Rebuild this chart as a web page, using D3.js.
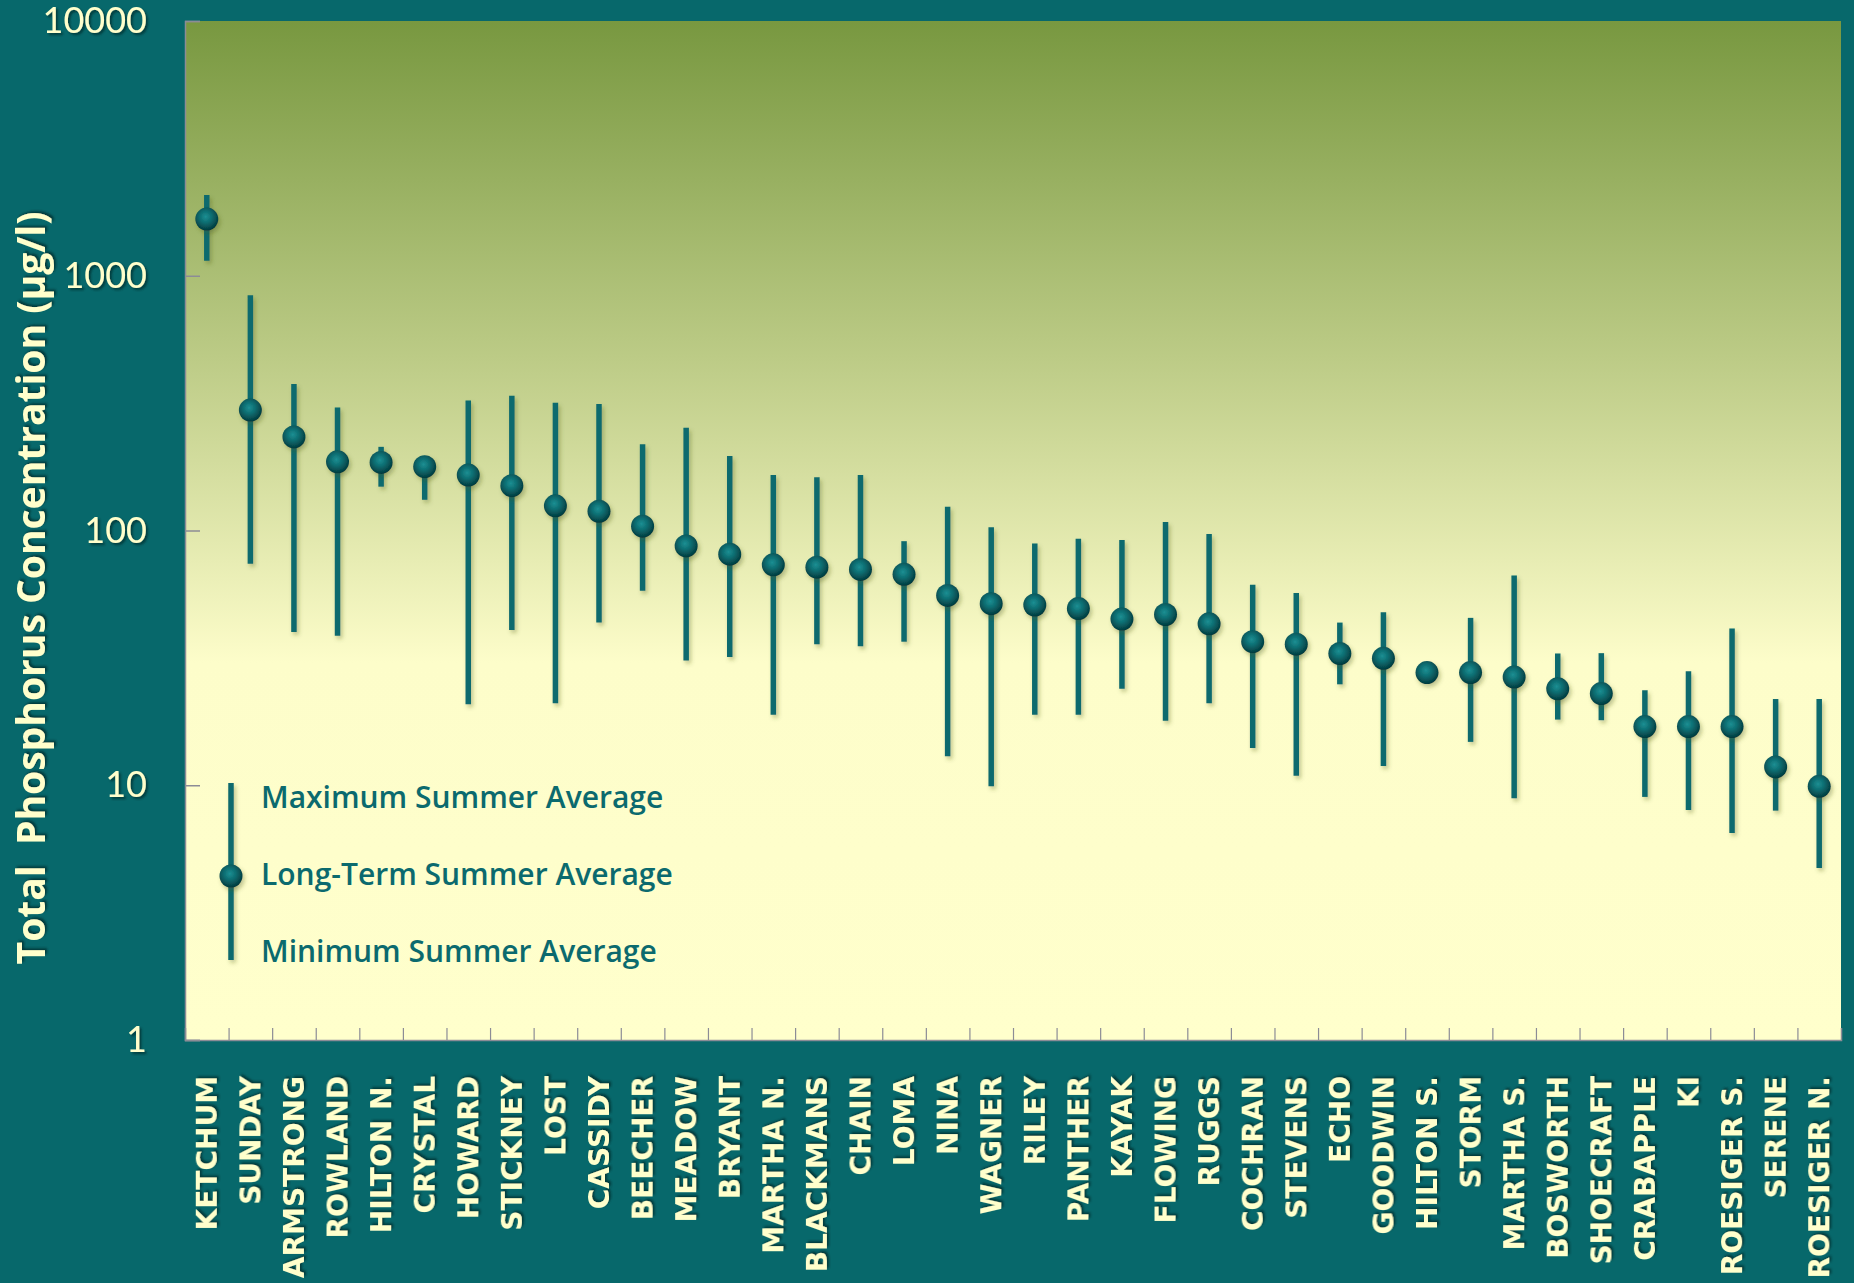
<!DOCTYPE html>
<html lang="en">
<head>
<meta charset="UTF-8" />
<title>Total Phosphorus</title>
<script src="https://d3js.org/d3.v7.min.js"></script>
<style>
  html, body { margin: 0; padding: 0; background: #07686b; }
  svg { display: block; }
  .tick-label { font-family: Lato, "Open Sans", sans-serif; font-size: 36px; fill: #ffffcc; }
  .lake-label { font-family: "DejaVu Sans", Verdana, sans-serif; font-weight: bold; font-size: 28px; fill: #ffffcc; }
  .y-title { font-family: "Open Sans", Lato, sans-serif; font-weight: bold; font-size: 39px; fill: #ffffcc; white-space: pre; }
  .legend-text { font-family: "Open Sans", Lato, sans-serif; font-weight: 600; font-size: 30px; fill: #0b6a6e; }
</style>
</head>
<body>
<svg id="chart" width="1854" height="1283"></svg>
<script>
// lakes, left to right
const lakes = ["KETCHUM", "SUNDAY", "ARMSTRONG", "ROWLAND", "HILTON N.", "CRYSTAL",
  "HOWARD", "STICKNEY", "LOST", "CASSIDY", "BEECHER", "MEADOW", "BRYANT", "MARTHA N.",
  "BLACKMANS", "CHAIN", "LOMA", "NINA", "WAGNER", "RILEY", "PANTHER", "KAYAK", "FLOWING",
  "RUGGS", "COCHRAN", "STEVENS", "ECHO", "GOODWIN", "HILTON S.", "STORM", "MARTHA S.",
  "BOSWORTH", "SHOECRAFT", "CRABAPPLE", "KI", "ROESIGER S.", "SERENE", "ROESIGER N."];

// long-term summer average (ug/l)
const avgTP = [1670, 297, 233, 186, 185, 178, 165, 150, 125, 119, 104, 87, 80.7, 73.3,
  71.8, 70.3, 67.3, 55.6, 51.6, 51, 49.4, 44.9, 46.8, 43, 36.6, 35.8, 32.9, 31.5, 27.7,
  27.7, 26.6, 23.9, 22.9, 17, 17, 17, 11.8, 9.9];

// maximum summer average
const maxTP = [2075, 838, 376, 304, 213, 190, 324, 338, 317, 314, 218, 253, 196, 165,
  162, 165, 90.8, 124, 103, 89, 92.8, 91.8, 108, 96.9, 61.2, 56.8, 43.5, 47.8, 27.7,
  45.4, 66.6, 32.9, 33, 23.6, 28, 41.2, 21.8, 21.8];

// minimum summer average
const minTP = [1145, 74, 40, 38.6, 148.6, 132, 20.8, 40.7, 21, 43.5, 58, 30.9, 31.9, 18.9,
  35.8, 35.1, 36.6, 13, 9.9, 18.9, 18.9, 23.9, 17.9, 21, 14, 10.9, 24.9, 11.9, 27.7,
  14.8, 8.9, 18.1, 18, 9.0, 8.0, 6.5, 7.95, 4.73];

const yTicks = [1, 10, 100, 1000, 10000];
const yTitle = "Total  Phosphorus Concentration (\u00b5g/l)";
const legendLabels = ["Maximum Summer Average", "Long-Term Summer Average", "Minimum Summer Average"];

const svg = d3.select("#chart");
const margin = { top: 21, right: 13, bottom: 243, left: 185 };
const width = 1854 - margin.left - margin.right;
const height = 1283 - margin.top - margin.bottom;

const defs = svg.append("defs");

const bg = defs.append("linearGradient").attr("id", "plotBg")
  .attr("x1", 0).attr("y1", 0).attr("x2", 0).attr("y2", 1);
bg.append("stop").attr("offset", "0%").attr("stop-color", "#789840");
bg.append("stop").attr("offset", "33%").attr("stop-color", "#bccb86");
bg.append("stop").attr("offset", "63%").attr("stop-color", "#fdfdca");
bg.append("stop").attr("offset", "100%").attr("stop-color", "#ffffcc");

const ball = defs.append("radialGradient").attr("id", "ball")
  .attr("cx", "45%").attr("cy", "40%").attr("r", "60%");
ball.append("stop").attr("offset", "0%").attr("stop-color", "#1c8f93");
ball.append("stop").attr("offset", "45%").attr("stop-color", "#0c6c70");
ball.append("stop").attr("offset", "100%").attr("stop-color", "#033a3d");

const textShadow = defs.append("filter").attr("id", "textShadow")
  .attr("x", "-10%").attr("y", "-10%").attr("width", "130%").attr("height", "130%");
textShadow.append("feDropShadow").attr("dx", 2).attr("dy", 2)
  .attr("stdDeviation", 1.2).attr("flood-color", "#02302f").attr("flood-opacity", 0.8);

// user space region so zero-width vertical lines still render
const markShadow = defs.append("filter").attr("id", "markShadow")
  .attr("filterUnits", "userSpaceOnUse")
  .attr("x", -200).attr("y", -100).attr("width", 2200).attr("height", 1400);
markShadow.append("feDropShadow").attr("dx", 2).attr("dy", 3)
  .attr("stdDeviation", 2).attr("flood-color", "#4a5a20").attr("flood-opacity", 0.35);

const g = svg.append("g").attr("transform", `translate(${margin.left},${margin.top})`);

g.append("rect").attr("width", width).attr("height", height).attr("fill", "url(#plotBg)");

const x = d3.scaleBand().domain(lakes).range([0, width]);
const xEdge = d3.scaleLinear().domain([0, lakes.length]).range([0, width]);
const y = d3.scaleLog().domain([1, 10000]).range([height, 0]);

// y axis
const yAxis = g.append("g")
  .call(d3.axisLeft(y).tickValues(yTicks).tickFormat(d3.format("d")).tickSize(-15).tickPadding(38));
yAxis.select(".domain").attr("stroke", "#8c8c96").attr("stroke-width", 1.5);
yAxis.selectAll(".tick line").attr("stroke", "#8c8c96").attr("stroke-width", 1.5);
yAxis.selectAll(".tick text").attr("class", "tick-label").attr("font-size", null)
  .attr("font-family", null).attr("fill", null).attr("filter", "url(#textShadow)");

// category boundary ticks
const xTicks = g.append("g").attr("transform", `translate(0,${height})`)
  .call(d3.axisBottom(xEdge).tickValues(d3.range(1, lakes.length)).tickSize(-12).tickFormat(""));
xTicks.select(".domain").attr("stroke", "#8c8c96").attr("stroke-width", 1.5);
xTicks.selectAll(".tick line").attr("stroke", "#8c8c96").attr("stroke-width", 1.2);

// lake names
const xAxis = g.append("g").attr("transform", `translate(0,${height})`)
  .call(d3.axisBottom(x).tickSize(0));
xAxis.select(".domain").remove();
xAxis.selectAll(".tick text")
  .attr("class", "lake-label").attr("font-size", null).attr("font-family", null).attr("fill", null)
  .attr("transform", "rotate(-90)")
  .attr("x", -36).attr("y", 0).attr("dy", "0.36em")
  .attr("text-anchor", "end")
  .attr("filter", "url(#textShadow)");

// error bars
g.selectAll(".range").data(lakes).join("line")
  .attr("class", "range")
  .attr("x1", d => x(d) + x.bandwidth() / 2)
  .attr("x2", d => x(d) + x.bandwidth() / 2)
  .attr("y1", (d, i) => y(maxTP[i]))
  .attr("y2", (d, i) => y(minTP[i]))
  .attr("stroke", "#0b6a6e").attr("stroke-width", 5.5)
  .attr("filter", "url(#markShadow)");

g.selectAll(".avg").data(lakes).join("circle")
  .attr("class", "avg")
  .attr("cx", d => x(d) + x.bandwidth() / 2)
  .attr("cy", (d, i) => y(avgTP[i]))
  .attr("r", 11.5)
  .attr("fill", "url(#ball)")
  .attr("filter", "url(#markShadow)");

// legend
const lg = g.append("g").attr("transform", "translate(46,0)");
lg.append("line").attr("x1", 0).attr("x2", 0).attr("y1", 762).attr("y2", 939)
  .attr("stroke", "#0b6a6e").attr("stroke-width", 5.5).attr("filter", "url(#markShadow)");
lg.append("circle").attr("cx", 0).attr("cy", 855).attr("r", 11.5)
  .attr("fill", "url(#ball)").attr("filter", "url(#markShadow)");
lg.selectAll(".legend-text").data(legendLabels).join("text")
  .attr("class", "legend-text")
  .attr("x", 30)
  .attr("y", (d, i) => 776 + i * 77)
  .attr("dy", "0.35em")
  .text(d => d);

// y title
svg.append("text")
  .attr("class", "y-title")
  .attr("transform", "translate(31,588) rotate(-90)")
  .attr("text-anchor", "middle")
  .attr("dy", "0.35em")
  .attr("filter", "url(#textShadow)")
  .text(yTitle);
</script>
</body>
</html>
